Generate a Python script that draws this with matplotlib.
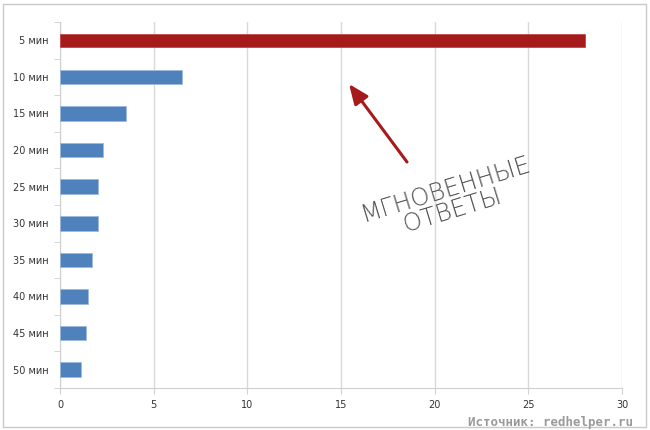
import matplotlib
matplotlib.use('Agg')
import matplotlib.pyplot as plt
from matplotlib.patches import Rectangle

# response time buckets and share of answers
categories = ['5 мин', '10 мин', '15 мин', '20 мин', '25 мин',
              '30 мин', '35 мин', '40 мин', '45 мин', '50 мин']
values = [28.0, 6.5, 3.5, 2.3, 2.05, 2.05, 1.7, 1.5, 1.4, 1.1]
x_ticks = [0, 5, 10, 15, 20, 25, 30]

RED = '#A51B1B'
BLUE = '#4F81BD'

fig = plt.figure(figsize=(6.5, 4.3), dpi=100)
ax = fig.add_axes([60 / 650, 42 / 430, 562 / 650, 366 / 430])

colors = [RED] + [BLUE] * (len(values) - 1)
heights = [0.36] + [0.4] * (len(values) - 1)
pos = list(range(len(categories)))
ax.barh(pos, values, height=heights, color=colors,
        edgecolor=['#C04848'] + ['#9DB9DC'] * (len(values) - 1), linewidth=0.6, zorder=3)

ax.set_ylim(len(categories) - 0.5, -0.5)
ax.set_xlim(0, 30)
ax.set_xticks(x_ticks)
ax.set_xticklabels([str(t) for t in x_ticks])
ax.set_yticks(pos)
ax.set_yticklabels(categories)
ax.set_yticks([p + 0.5 for p in [-1] + pos], minor=True)

ax.grid(axis='x', color='#D9D9D9', linewidth=1.0, zorder=0)
ax.set_axisbelow(True)
for side in ['top', 'right']:
    ax.spines[side].set_visible(False)
ax.spines['left'].set_color('#D0D0D0')
ax.spines['bottom'].set_color('#D0D0D0')

ax.tick_params(axis='y', which='major', length=0, pad=8, labelsize=7, labelcolor='#333333')
ax.tick_params(axis='y', which='minor', length=4, color='#D0D0D0')
ax.tick_params(axis='x', length=4, color='#D0D0D0', pad=5, labelsize=7, labelcolor='#333333')

# arrow pointing at the first bar
fig.add_artist(plt.Annotation('', xy=(349 / 650, 1 - 84 / 430), xytext=(407 / 650, 1 - 162 / 430),
                              xycoords='figure fraction', textcoords='figure fraction',
                              arrowprops=dict(arrowstyle='-|>,head_length=1.2,head_width=0.5',
                                              color=RED, lw=2.2, shrinkA=0, shrinkB=0)))

fig.text(449 / 650, 1 - 200 / 430, 'МГНОВЕННЫЕ\nОТВЕТЫ', rotation=17, rotation_mode='anchor',
         ha='center', va='center', ma='center', fontsize=17.5, color='#555555',
         family='DejaVu Sans', fontweight='light', linespacing=0.85)

fig.text(633 / 650, 1 - 426 / 430, 'Источник: redhelper.ru', ha='right', va='baseline',
         fontsize=9.0, color='#9A9A9A', family='DejaVu Sans Mono', fontweight='bold')

fig.add_artist(Rectangle((3 / 650, 3 / 430), 643 / 650, 423 / 430, transform=fig.transFigure,
                         fill=False, edgecolor='#C8C8C8', linewidth=1.0))

fig.savefig('out.png', dpi=100)
